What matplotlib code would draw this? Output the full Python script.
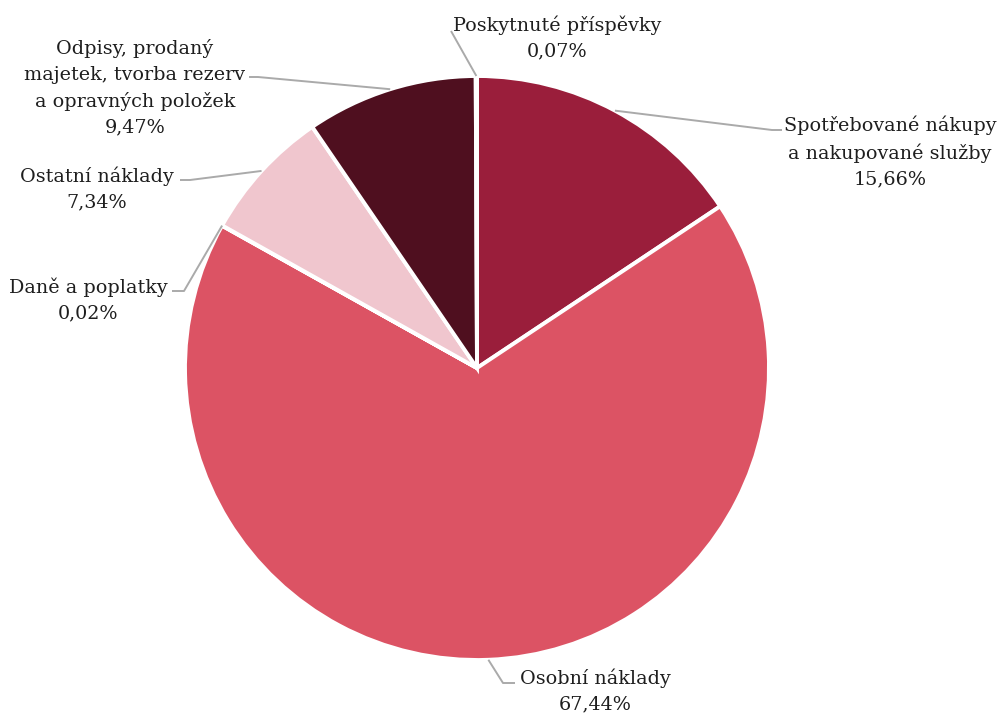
import numpy as np
import matplotlib.pyplot as plt

labels = [
    "Spotřebované nákupy\na nakupované služby",
    "Osobní náklady",
    "Daně a poplatky",
    "Ostatní náklady",
    "Odpisy, prodaný\nmajetek, tvorba rezerv\na opravných položek",
    "Poskytnuté příspěvky",
]
shares = [15.66, 67.44, 0.02, 7.34, 9.47, 0.07]
colors = ["#9a1e3b", "#dc5364", "#e98a98", "#f0c6ce", "#4f0f1f", "#c2364f"]

W, H = 1000, 716
cx, cy, r = 477, 368, 292

# text centre and elbow points of each leader line, in pixels from the top left
text_pos = [(890, 152), (595, 691), (88, 300), (97, 189), (135, 88), (557, 38)]
elbows = [
    [(772, 130), (782, 130)],
    [(503, 683), (515, 683)],
    [(184, 291), (172, 291)],
    [(190, 180), (180, 180)],
    [(258, 77), (249, 77)],
    [(451, 31)],
]

def flip(y):
    return H - y

fig = plt.figure(figsize=(10, 7.16), dpi=100)
ax = fig.add_axes([0, 0, 1, 1])

wedges, _ = ax.pie(
    shares,
    colors=colors,
    startangle=90,
    counterclock=False,
    center=(cx, flip(cy)),
    radius=r,
    wedgeprops=dict(edgecolor="white", linewidth=2.8),
    frame=True,
)
ax.set_xlim(0, W)
ax.set_ylim(0, H)
ax.set_aspect("equal")
ax.axis("off")

for w, lab, val, (tx, ty), elb in zip(wedges, labels, shares, text_pos, elbows):
    mid = np.deg2rad((w.theta1 + w.theta2) / 2)
    sx = cx + r * np.cos(mid)
    sy = flip(cy) + r * np.sin(mid)
    xs = [sx] + [p[0] for p in elb]
    ys = [sy] + [flip(p[1]) for p in elb]
    ax.plot(xs, ys, color="#aaaaaa", lw=1.4, solid_capstyle="butt", zorder=3)
    txt = lab + "\n" + f"{val:.2f}".replace(".", ",") + "%"
    ax.text(tx, flip(ty), txt, ha="center", va="center", fontsize=13.8,
            family="DejaVu Serif", color="#1e1e1e", linespacing=1.55)

fig.savefig("out.png", dpi=100, facecolor="white")
